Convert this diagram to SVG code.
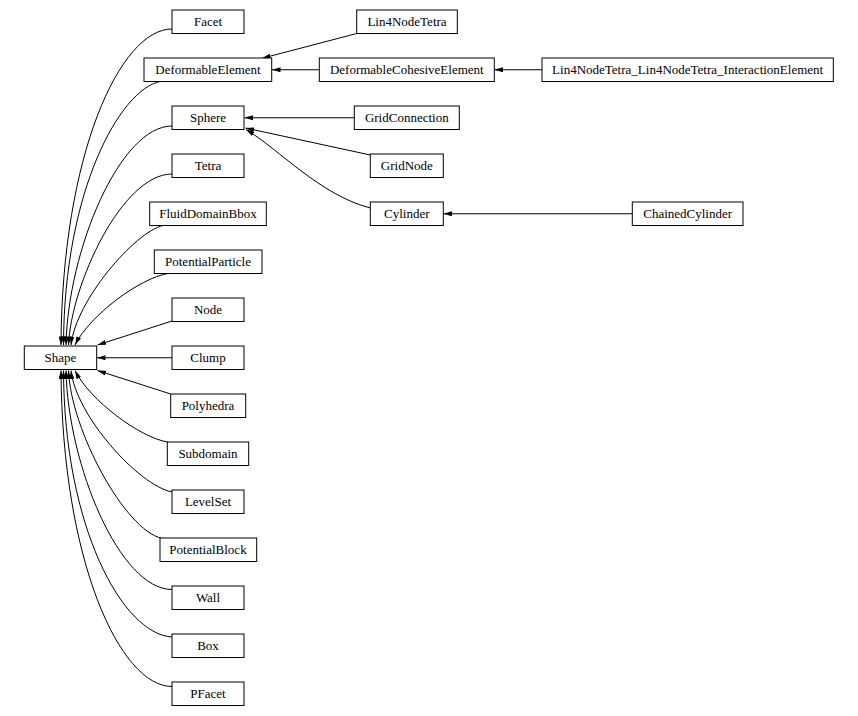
<svg xmlns="http://www.w3.org/2000/svg" width="858" height="716" viewBox="0 0 858 716">
<style>
.n rect{fill:#fff;stroke:#000;stroke-width:1}
.n text{font-family:"Liberation Serif","Times New Roman",serif;font-size:13px;fill:#000;text-anchor:middle}
.e path{fill:none;stroke:#000;stroke-width:1;marker-end:url(#ah)}
</style>
<defs>
<marker id="ah" viewBox="0 0 8.5 5" refX="8.5" refY="2.5" markerWidth="8.5" markerHeight="5" markerUnits="userSpaceOnUse" orient="auto">
<path d="M0,0 L8.5,2.5 L0,5 z" fill="#000"/>
</marker>
</defs>
<rect width="858" height="716" fill="#fff"/>
<g class="e" id="edges">
<path d="M172,29 C120,29 62,155 61,345"/>
<path d="M160,81.5 C120,90 64,190 63.5,345"/>
<path d="M172,126 C120,126 68,250 66,345"/>
<path d="M172,174 C122,174 71,285 68.5,345"/>
<path d="M163,225.5 C135,232 76,300 71,345"/>
<path d="M168,273.5 C140,278 90,315 75,345"/>
<path d="M172,321 L97.5,345"/>
<path d="M172,357.75 L97,357.75"/>
<path d="M170.7,394 L97.5,370.5"/>
<path d="M167.5,442 C140,437.5 90,400.5 75,370.5"/>
<path d="M172,492 C138,485 76,415.5 71,370.5"/>
<path d="M161.7,538.3 C125,530 71,430.5 68.5,370.5"/>
<path d="M172,589.5 C120,589.5 68,465.5 66,370.5"/>
<path d="M172,637 C122,634 64,525.5 63.5,370.5"/>
<path d="M172,686.5 C120,686.5 62,560.5 61,370.5"/>
<path d="M356.7,33.5 L262,58.3"/>
<path d="M319.3,69.75 L272,69.75"/>
<path d="M542,69.75 L494.5,69.75"/>
<path d="M354.3,117.75 L244.5,117.75"/>
<path d="M370.3,155 L245.5,128"/>
<path d="M370.3,208 C320,195 280,150 246,129.5"/>
<path d="M632.3,213.75 L443.5,213.75"/>
</g>
<g class="n" id="Facet"><rect x="172" y="10" width="72" height="23.5"/><text x="208" y="26.25">Facet</text></g>
<g class="n" id="DeformableElement"><rect x="144" y="58" width="127.7" height="23.5"/><text x="208" y="74.25">DeformableElement</text></g>
<g class="n" id="Sphere"><rect x="172" y="106" width="72" height="23.5"/><text x="208" y="122.25">Sphere</text></g>
<g class="n" id="Tetra"><rect x="172" y="154" width="72" height="23.5"/><text x="208" y="170.25">Tetra</text></g>
<g class="n" id="FluidDomainBbox"><rect x="149.7" y="202" width="116.6" height="23.5"/><text x="208" y="218.25">FluidDomainBbox</text></g>
<g class="n" id="PotentialParticle"><rect x="154.3" y="250" width="107.7" height="23.5"/><text x="208" y="266.25">PotentialParticle</text></g>
<g class="n" id="Node"><rect x="172" y="298" width="72" height="23.5"/><text x="208" y="314.25">Node</text></g>
<g class="n" id="Shape"><rect x="24.3" y="346" width="72.4" height="23.5"/><text x="60.5" y="362.25">Shape</text></g>
<g class="n" id="Clump"><rect x="172" y="346" width="72" height="23.5"/><text x="208" y="362.25">Clump</text></g>
<g class="n" id="Polyhedra"><rect x="170.7" y="394" width="75" height="23.5"/><text x="208" y="410.25">Polyhedra</text></g>
<g class="n" id="Subdomain"><rect x="167.3" y="442" width="81.4" height="23.5"/><text x="208" y="458.25">Subdomain</text></g>
<g class="n" id="LevelSet"><rect x="172" y="490" width="72" height="23.5"/><text x="208" y="506.25">LevelSet</text></g>
<g class="n" id="PotentialBlock"><rect x="160" y="538" width="96.7" height="23.5"/><text x="208" y="554.25">PotentialBlock</text></g>
<g class="n" id="Wall"><rect x="172" y="586" width="72" height="23.5"/><text x="208" y="602.25">Wall</text></g>
<g class="n" id="Box"><rect x="172" y="634" width="72" height="23.5"/><text x="208" y="650.25">Box</text></g>
<g class="n" id="PFacet"><rect x="172" y="682" width="72" height="23.5"/><text x="208" y="698.25">PFacet</text></g>
<g class="n" id="Lin4NodeTetra"><rect x="356.7" y="10" width="100.6" height="23.5"/><text x="407" y="26.25">Lin4NodeTetra</text></g>
<g class="n" id="DeformableCohesiveElement"><rect x="319.3" y="58" width="175" height="23.5"/><text x="406.8" y="74.25">DeformableCohesiveElement</text></g>
<g class="n" id="Lin4NodeTetra_Lin4NodeTetra_InteractionElement"><rect x="542" y="58" width="291.3" height="23.5"/><text x="687.65" y="74.25">Lin4NodeTetra_Lin4NodeTetra_InteractionElement</text></g>
<g class="n" id="GridConnection"><rect x="354.3" y="106" width="105" height="23.5"/><text x="406.8" y="122.25">GridConnection</text></g>
<g class="n" id="GridNode"><rect x="370.3" y="154" width="73" height="23.5"/><text x="406.8" y="170.25">GridNode</text></g>
<g class="n" id="Cylinder"><rect x="370.3" y="202" width="73" height="23.5"/><text x="406.8" y="218.25">Cylinder</text></g>
<g class="n" id="ChainedCylinder"><rect x="632.3" y="202" width="110.7" height="23.5"/><text x="687.65" y="218.25">ChainedCylinder</text></g>
</svg>
